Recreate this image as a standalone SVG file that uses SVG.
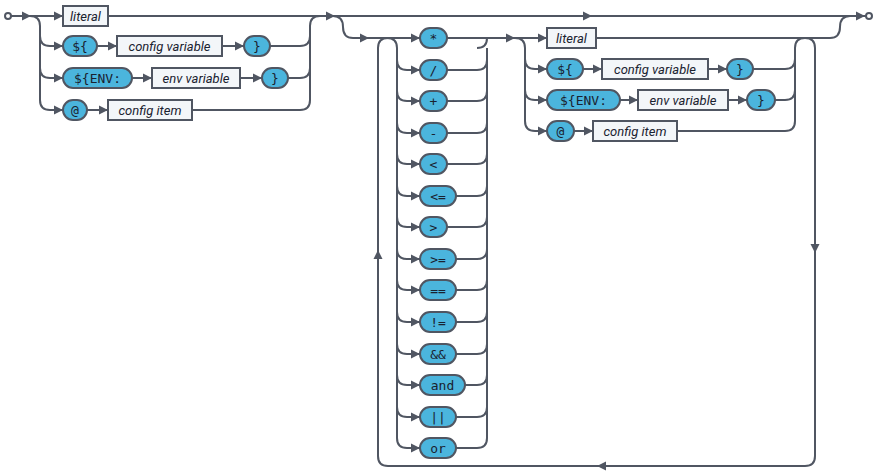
<svg xmlns="http://www.w3.org/2000/svg" xmlns:xlink="http://www.w3.org/1999/xlink" width="879" height="474" viewBox="0 0 879 474">
<style>
.l{fill:none;stroke:#505662;stroke-width:2}
.p{fill:#4bb5dd;stroke:#505662;stroke-width:2}
.b{fill:#f3f6f9;stroke:#505662;stroke-width:2}
.pt{font-family:"DejaVu Sans Mono",monospace;font-size:13px;fill:#1a2230;text-anchor:middle}
.bt{font-family:Roboto,"Liberation Sans",sans-serif;font-style:italic;font-size:13px;fill:#1a2230;text-anchor:middle}
.a{fill:#505662}
</style>
<defs>
<path id="ar" d="M0,0 l-9,-4.5 v9z"/>
<path id="au" d="M0,0 l-4.5,9 h9z"/>
<path id="ad" d="M0,0 l-4.5,-9 h9z"/>
<path id="al" d="M0,0 l9,-4.5 v9z"/>
</defs>
<g id="connectors">
<circle cx="8" cy="16" r="3" fill="#fff" stroke="#505662" stroke-width="2"/>
<circle cx="869" cy="16" r="3" fill="#fff" stroke="#505662" stroke-width="2"/>
<path class="l" d="M11,16 H63 M30,16 q10,0 10,10 V100 q0,10 10,10 h13 M40,36 q0,10 10,10 h13 M40,68 q0,10 10,10 h13"/>
<path class="l" d="M97,46 H117 M222,46 H244 M270,46 h30 q10,0 10,-10 M132,78 H152 M240,78 H262 M288,78 h12 q10,0 10,-10 M87,110 H108 M192,110 H300 q10,0 10,-10 V26 q0,-10 10,-10"/>
<path class="l" d="M108,16 H866"/>
<path class="l" d="M333,16 q10,0 10,11 q0,11 10,11 H420"/>
<path class="l" d="M387,38 q10,0 10,10 V438 q0,10 10,10 h13"/>
<path class="l" d="M815,48 V456 q0,10 -10,10 H388 q-10,0 -10,-10 V48 q0,-10 10,-10"/>
<path class="l" d="M447,38 H547 M805,38 q10,0 10,10"/>
<path class="l" d="M477,48 q10,0 10,-10 M487,48 V438 q0,10 -10,10"/>
<path class="l" d="M515,38 q10,0 10,10 V121 q0,10 10,10 h12 M525,59 q0,10 10,10 h12 M525,90 q0,10 10,10 h12"/>
<path class="l" d="M583,69 H602 M708,69 H727 M753,69 h32 q10,0 10,-10 M620,100 H638 M728,100 H747 M775,100 h10 q10,0 10,-10 M574,131 H593 M677,131 H785 q10,0 10,-10 V48 q0,-10 10,-10"/>
<path class="l" d="M596,38 H830 q10,0 10,-11 q0,-11 10,-11"/>
<g class="a">
<use href="#ar" x="31" y="16"/><use href="#ar" x="63" y="16"/><use href="#ar" x="63" y="46"/><use href="#ar" x="63" y="78"/><use href="#ar" x="63" y="110"/>
<use href="#ar" x="117" y="46"/><use href="#ar" x="244" y="46"/><use href="#ar" x="152" y="78"/><use href="#ar" x="262" y="78"/><use href="#ar" x="108" y="110"/>
<use href="#ar" x="335" y="16"/><use href="#ar" x="592" y="16"/><use href="#ar" x="865" y="16"/>
<use href="#ar" x="369" y="38"/><use href="#ar" x="515" y="38"/>
<use href="#ar" x="547" y="38"/><use href="#ar" x="547" y="69"/><use href="#ar" x="547" y="100"/><use href="#ar" x="547" y="131"/>
<use href="#ar" x="602" y="69"/><use href="#ar" x="727" y="69"/><use href="#ar" x="638" y="100"/><use href="#ar" x="747" y="100"/><use href="#ar" x="593" y="131"/>
<use href="#au" x="378" y="250"/><use href="#ad" x="815" y="253"/><use href="#al" x="597" y="466"/>
</g>
</g>
<g id="ops">
<path class="l" d="M397,60 q0,10 10,10 h13 M397,91 q0,10 10,10 h13 M397,123 q0,10 10,10 h13 M397,154 q0,10 10,10 h13 M397,186 q0,10 10,10 h13 M397,217 q0,10 10,10 h13 M397,249 q0,10 10,10 h13 M397,280 q0,10 10,10 h13 M397,312 q0,10 10,10 h13 M397,344 q0,10 10,10 h13 M397,375 q0,10 10,10 h13 M397,407 q0,10 10,10 h13"/>
<path class="l" d="M447,70 H477 q10,0 10,-10 M447,101 H477 q10,0 10,-10 M447,133 H477 q10,0 10,-10 M447,164 H477 q10,0 10,-10 M456,196 H477 q10,0 10,-10 M447,227 H477 q10,0 10,-10 M456,259 H477 q10,0 10,-10 M456,290 H477 q10,0 10,-10 M456,322 H477 q10,0 10,-10 M456,354 H477 q10,0 10,-10 M465,385 H477 q10,0 10,-10 M456,417 H477 q10,0 10,-10 M456,448 H477"/>
<g class="a">
<use href="#ar" x="420" y="38"/><use href="#ar" x="420" y="70"/><use href="#ar" x="420" y="101"/><use href="#ar" x="420" y="133"/><use href="#ar" x="420" y="164"/><use href="#ar" x="420" y="196"/><use href="#ar" x="420" y="227"/><use href="#ar" x="420" y="259"/><use href="#ar" x="420" y="290"/><use href="#ar" x="420" y="322"/><use href="#ar" x="420" y="354"/><use href="#ar" x="420" y="385"/><use href="#ar" x="420" y="417"/><use href="#ar" x="420" y="448"/>
</g>
</g>
<g id="n-literal1"><rect class="b" x="63" y="6" width="45" height="20"/><text class="bt" x="85.5" y="21">literal</text></g>
<g id="n-dollar1"><rect class="p" x="63" y="36" width="34" height="20" rx="10"/><text class="pt" x="80" y="51">${</text></g>
<g id="n-configvar1"><rect class="b" x="117" y="36" width="105" height="20"/><text class="bt" x="169.5" y="51">config variable</text></g>
<g id="n-close1"><rect class="p" x="244" y="36" width="26" height="20" rx="10"/><text class="pt" x="257" y="51">}</text></g>
<g id="n-env1"><rect class="p" x="63" y="68" width="69" height="20" rx="10"/><text class="pt" x="97.5" y="83">${ENV:</text></g>
<g id="n-envvar1"><rect class="b" x="152" y="68" width="88" height="20"/><text class="bt" x="196" y="83">env variable</text></g>
<g id="n-close2"><rect class="p" x="262" y="68" width="26" height="20" rx="10"/><text class="pt" x="275" y="83">}</text></g>
<g id="n-at1"><rect class="p" x="63" y="100" width="24" height="20" rx="10"/><text class="pt" x="75" y="115">@</text></g>
<g id="n-item1"><rect class="b" x="108" y="100" width="84" height="20"/><text class="bt" x="150" y="115">config item</text></g>
<g id="op-mul"><rect class="p" x="420" y="28" width="27" height="20" rx="10"/><text class="pt" x="433.5" y="43">*</text></g>
<g id="op-div"><rect class="p" x="420" y="60" width="27" height="20" rx="10"/><text class="pt" x="433.5" y="75">/</text></g>
<g id="op-add"><rect class="p" x="420" y="91" width="27" height="20" rx="10"/><text class="pt" x="433.5" y="106">+</text></g>
<g id="op-sub"><rect class="p" x="420" y="123" width="27" height="20" rx="10"/><text class="pt" x="433.5" y="138">-</text></g>
<g id="op-lt"><rect class="p" x="420" y="154" width="27" height="20" rx="10"/><text class="pt" x="433.5" y="169">&lt;</text></g>
<g id="op-le"><rect class="p" x="420" y="186" width="36" height="20" rx="10"/><text class="pt" x="438" y="201">&lt;=</text></g>
<g id="op-gt"><rect class="p" x="420" y="217" width="27" height="20" rx="10"/><text class="pt" x="433.5" y="232">&gt;</text></g>
<g id="op-ge"><rect class="p" x="420" y="249" width="36" height="20" rx="10"/><text class="pt" x="438" y="264">&gt;=</text></g>
<g id="op-eq"><rect class="p" x="420" y="280" width="36" height="20" rx="10"/><text class="pt" x="438" y="295">==</text></g>
<g id="op-ne"><rect class="p" x="420" y="312" width="36" height="20" rx="10"/><text class="pt" x="438" y="327">!=</text></g>
<g id="op-and1"><rect class="p" x="420" y="344" width="36" height="20" rx="10"/><text class="pt" x="438" y="359">&amp;&amp;</text></g>
<g id="op-and2"><rect class="p" x="420" y="375" width="45" height="20" rx="10"/><text class="pt" x="442.5" y="390">and</text></g>
<g id="op-or1"><rect class="p" x="420" y="407" width="36" height="20" rx="10"/><text class="pt" x="438" y="422">||</text></g>
<g id="op-or2"><rect class="p" x="420" y="438" width="36" height="20" rx="10"/><text class="pt" x="438" y="453">or</text></g>
<g id="n-literal2"><rect class="b" x="547" y="28" width="49" height="20"/><text class="bt" x="571.5" y="43">literal</text></g>
<g id="n-dollar2"><rect class="p" x="547" y="59" width="36" height="20" rx="10"/><text class="pt" x="565" y="74">${</text></g>
<g id="n-configvar2"><rect class="b" x="602" y="59" width="106" height="20"/><text class="bt" x="655" y="74">config variable</text></g>
<g id="n-close3"><rect class="p" x="727" y="59" width="26" height="20" rx="10"/><text class="pt" x="740" y="74">}</text></g>
<g id="n-env2"><rect class="p" x="547" y="90" width="73" height="20" rx="10"/><text class="pt" x="583.5" y="105">${ENV:</text></g>
<g id="n-envvar2"><rect class="b" x="638" y="90" width="90" height="20"/><text class="bt" x="683" y="105">env variable</text></g>
<g id="n-close4"><rect class="p" x="747" y="90" width="28" height="20" rx="10"/><text class="pt" x="761" y="105">}</text></g>
<g id="n-at2"><rect class="p" x="547" y="121" width="27" height="20" rx="10"/><text class="pt" x="560.5" y="136">@</text></g>
<g id="n-item2"><rect class="b" x="593" y="121" width="84" height="20"/><text class="bt" x="635" y="136">config item</text></g>
</svg>
